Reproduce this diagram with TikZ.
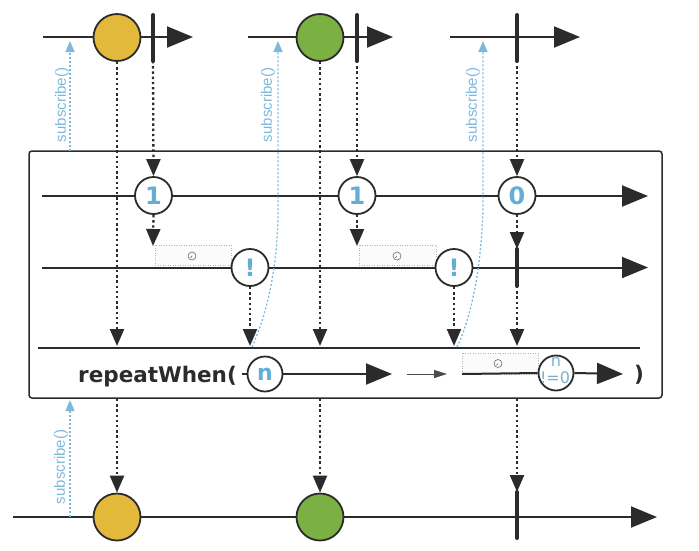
\documentclass[tikz,border=0pt]{standalone}
\usepackage{fontspec}
\setmainfont{DejaVu Sans}
\newfontfamily\labfont{Liberation Sans}
\usetikzlibrary{arrows.meta}
\definecolor{ink}{HTML}{2B2B2B}
\definecolor{ballY}{HTML}{E2B93B}
\definecolor{ballG}{HTML}{7BB042}
\definecolor{valblue}{HTML}{66ADD6}
\definecolor{subblue}{HTML}{7DB9DC}
\definecolor{nzblue}{HTML}{7FB2C9}
\tikzset{
 timeline/.style={draw=ink, line width=2pt, -{Triangle[length=26pt,width=21pt]}},
 plainline/.style={draw=ink, line width=2pt},
 ball/.style={circle, draw=ink, line width=1.8pt, minimum size=47pt, inner sep=0},
 valball/.style={circle, draw=ink, line width=1.8pt, fill=white, minimum size=37pt, inner sep=0, text=valblue, font=\fontsize{24}{24}\selectfont\bfseries},
 endbar/.style={draw=ink, line width=4pt, line cap=round},
 flow/.style={draw=ink, line width=2.3pt, dash pattern=on 2.4pt off 2.8pt, -{Triangle[length=17pt,width=14pt]}},
 subarrow/.style={draw=subblue, line width=1.3pt, dash pattern=on 2pt off 2pt, -{Triangle[length=11pt,width=9pt]}},
 sublabel/.style={text=subblue, font=\labfont\fontsize{15}{15}\selectfont, rotate=90, inner sep=0},
 timerbox/.style={draw=gray!60, line width=0.8pt, dash pattern=on 1pt off 1.5pt, fill=gray!3},
 clock/.style={circle, draw=gray!85!black, line width=0.6pt, minimum size=8pt, inner sep=0},
 clockhand/.style={draw=gray!85!black, line width=0.6pt},
 optext/.style={text=ink, font=\fontsize{21.5}{21.5}\selectfont\bfseries, inner sep=0},
 smallarrow/.style={draw=ink!85, line width=1pt, -{Triangle[length=13pt,width=8pt]}},
 frame/.style={draw=ink, line width=1.5pt, rounded corners=3pt},
}
\begin{document}
\begin{tikzpicture}[x=1pt,y=-1pt]
\useasboundingbox (0,0) rectangle (699,550);

% ---------- top source rows ----------
\coordinate (t1s) at (43,37); \coordinate (t1e) at (193,37);
\coordinate (t2s) at (248,37); \coordinate (t2e) at (393,37);
\coordinate (t3s) at (450,37); \coordinate (t3e) at (580,37);
\draw[timeline] (t1s) -- (t1e);
\draw[timeline] (t2s) -- (t2e);
\draw[timeline] (t3s) -- (t3e);
\node[ball, fill=ballY] (y1) at (117,37.5) {};
\node[ball, fill=ballG] (g1) at (320,37.5) {};
\coordinate (b1t) at (153,15); \coordinate (b1b) at (153,61);
\coordinate (b2t) at (357,15); \coordinate (b2b) at (357,61);
\coordinate (b3t) at (517,15); \coordinate (b3b) at (517,61);
\draw[endbar] (b1t) -- (b1b);
\draw[endbar] (b2t) -- (b2b);
\draw[endbar] (b3t) -- (b3b);

% ---------- operator frame ----------
\coordinate (fr1) at (29,151); \coordinate (fr2) at (662,398);
\draw[frame] (fr1) rectangle (fr2);

% line A
\coordinate (lAs) at (42,196); \coordinate (lAe) at (648,196);
\draw[timeline] (lAs) -- (lAe);
\node[valball] (c1) at (153.5,195.5) {1};
\node[valball] (c2) at (357,195.5) {1};
\node[valball] (c0) at (517,195.5) {0};

% line B
\coordinate (tb1a) at (155,245); \coordinate (tb1b) at (231,265);
\coordinate (tb2a) at (359,245); \coordinate (tb2b) at (436,265);
\draw[timerbox] (tb1a) rectangle (tb1b);
\draw[timerbox] (tb2a) rectangle (tb2b);
\node[clock] (k1) at (192,256) {};
\node[clock] (k2) at (397,256) {};
\draw[clockhand] (k1.center) -- ++(-1.6,1.8);
\draw[clockhand] (k2.center) -- ++(-1.6,1.8);
\coordinate (lBs) at (42,267.5); \coordinate (lBe) at (648,267.5);
\draw[timeline] (lBs) -- (lBe);
\node[valball] (e1) at (250,267.5) {!};
\node[valball] (e2) at (454,267.5) {!};
\coordinate (b4t) at (517,249); \coordinate (b4b) at (517,286);
\draw[endbar] (b4t) -- (b4b);

% line C
\coordinate (lCs) at (38,347.5); \coordinate (lCe) at (640,347.5);
\draw[plainline] (lCs) -- (lCe);
\coordinate (cY) at (117,346); \coordinate (cE1) at (250,346);
\coordinate (cG) at (320,346); \coordinate (cE2) at (454,346);
\coordinate (cB) at (517,346);

% repeatWhen row
\node[optext, anchor=base west] (rw) at (78,382) {repeatWhen(};
\node[valball, minimum size=35pt, font=\fontsize{22}{22}\selectfont\bfseries] (nn) at (265,374) {n};
\coordinate (dpre) at (242,374);
\draw[plainline] (dpre) -- (nn.west);
\coordinate (dA) at (392,374);
\draw[timeline] (nn.east) -- (dA);
\coordinate (dB1) at (407,374); \coordinate (dB2) at (447,374);
\draw[smallarrow] (dB1) -- (dB2);
\coordinate (tb3a) at (462,353); \coordinate (tb3b) at (538,374);
\draw[timerbox] (tb3a) rectangle (tb3b);
\node[clock] (k3) at (498,363.5) {};
\draw[clockhand] (k3.center) -- ++(-1.6,1.8);
\coordinate (dC) at (462,374);
\coordinate (dD) at (623,374);
\node[circle, draw=ink, line width=1.8pt, fill=white, minimum size=35pt, inner sep=0] (nz) at (556,373) {};
\draw[plainline] (dC) -- (nz.west);
\draw[timeline] (nz.east) -- (dD);
\node[text=nzblue, font=\fontsize{16}{16}\selectfont, inner sep=0] (nzt) at (556,362) {n};
\node[text=nzblue, font=\fontsize{16}{16}\selectfont, inner sep=0] (nzb) at (555,378) {!=0};
\node[optext] (cp) at (639,375) {)};

% ---------- bottom result row ----------
\coordinate (bs) at (13,517); \coordinate (be) at (657,517);
\draw[timeline] (bs) -- (be);
\node[ball, fill=ballY] (yb) at (117,517) {};
\node[ball, fill=ballG] (gb) at (320,517) {};
\coordinate (b5t) at (517,492); \coordinate (b5b) at (517,538);
\draw[endbar] (b5t) -- (b5b);

% ---------- dotted flow arrows ----------
\draw[flow] (b1b) -- (c1.north);
\draw[flow] (b2b) -- (c2.north);
\draw[flow] (b3b) -- (c0.north);
\coordinate (tb1top) at (153,246);
\coordinate (tb2top) at (357,246);
\draw[flow] (c1.south) -- (tb1top);
\draw[flow] (c2.south) -- (tb2top);
\draw[flow] (c0.south) -- (b4t);
\draw[flow] (y1.south) -- (cY);
\draw[flow] (g1.south) -- (cG);
\draw[flow] (e1.south) -- (cE1);
\draw[flow] (e2.south) -- (cE2);
\draw[flow] (b4b) -- (cB);
\coordinate (oY) at (117,399); \coordinate (oG) at (320,399); \coordinate (oB) at (517,399);
\draw[flow] (oY) -- (yb.north);
\draw[flow] (oG) -- (gb.north);
\draw[flow] (oB) -- (b5t);

% ---------- subscribe arrows ----------
\coordinate (s1a) at (70,151); \coordinate (s1b) at (70,41);
\draw[subarrow] (s1a) -- (s1b);
\coordinate (s2a) at (252,347); \coordinate (s2b) at (278,41);
\draw[subarrow] (s2a) .. controls (265,318) and (277,275) .. (278,215) -- (s2b);
\coordinate (s3a) at (457,347); \coordinate (s3b) at (483,41);
\draw[subarrow] (s3a) .. controls (471,318) and (481,270) .. (483,210) -- (s3b);
\coordinate (s4a) at (70,517); \coordinate (s4b) at (70,400);
\draw[subarrow] (s4a) -- (s4b);
\node[sublabel] (sl1) at (62,105) {subscribe()};
\node[sublabel] (sl2) at (268,105) {subscribe()};
\node[sublabel] (sl3) at (473,105) {subscribe()};
\node[sublabel] (sl4) at (61,467) {subscribe()};
\end{tikzpicture}
\end{document}
